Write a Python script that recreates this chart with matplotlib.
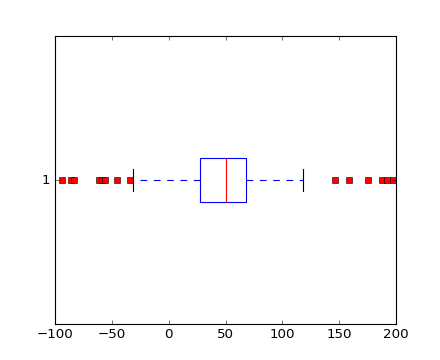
import matplotlib
matplotlib.use('Agg')
import matplotlib.pyplot as plt

plt.style.use('classic')

# Box statistics
q1, med, q3 = 27.8, 50.7, 68.3
whislo, whishi = -31.4, 118.4
fliers_low = [-93.6, -86.0, -83.5, -61.0, -58.9, -56.0, -45.2, -34.0]
fliers_high = [146.3, 158.8, 175.6, 187.3, 191.7, 197.0]

stats = [dict(label='1', q1=q1, med=med, q3=q3, whislo=whislo, whishi=whishi,
              fliers=fliers_low + fliers_high)]

fig = plt.figure(figsize=(5.5, 4.5), dpi=80)
ax = fig.add_subplot(111)
ax.bxp(stats, orientation='horizontal',
       boxprops=dict(color='b'),
       medianprops=dict(color='r'),
       whiskerprops=dict(color='b', linestyle='--'),
       capprops=dict(color='k'),
       flierprops=dict(marker='s', markerfacecolor='r', markeredgecolor='k',
                       markeredgewidth=0.5, markersize=6, linestyle='none'))
ax.set_xlim(-100, 200)
ax.set_ylim(0.5, 1.5)
fig.savefig('out.png', dpi=80)
